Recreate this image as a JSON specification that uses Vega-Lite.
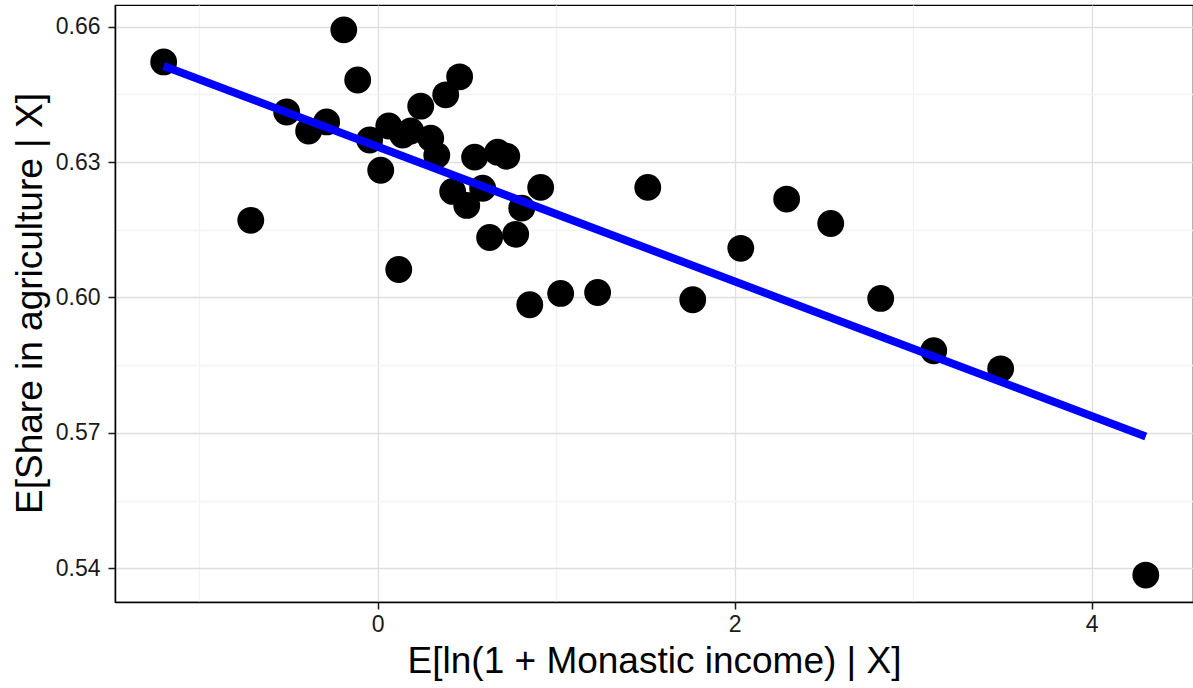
{
  "$schema": "https://vega.github.io/schema/vega-lite/v6.json",
  "autosize": "none",
  "width": 1078,
  "height": 597,
  "padding": {"left": 115, "top": 5, "right": 0, "bottom": 86},
  "background": "white",
  "config": {
    "view": {"stroke": "black", "strokeWidth": 1.2},
    "font": "Liberation Sans"
  },
  "datasets": {
    "points": [
      {"x": -1.199, "y": 0.6522},
      {"x": -0.711, "y": 0.6171},
      {"x": -0.510, "y": 0.6411},
      {"x": -0.387, "y": 0.6369},
      {"x": -0.286, "y": 0.6389},
      {"x": -0.190, "y": 0.6593},
      {"x": -0.112, "y": 0.6482},
      {"x": -0.045, "y": 0.6349},
      {"x": 0.017, "y": 0.6282},
      {"x": 0.062, "y": 0.6380},
      {"x": 0.118, "y": 0.6062},
      {"x": 0.140, "y": 0.6360},
      {"x": 0.185, "y": 0.6369},
      {"x": 0.241, "y": 0.6424},
      {"x": 0.297, "y": 0.6353},
      {"x": 0.331, "y": 0.6315},
      {"x": 0.381, "y": 0.6449},
      {"x": 0.420, "y": 0.6235},
      {"x": 0.459, "y": 0.6489},
      {"x": 0.499, "y": 0.6204},
      {"x": 0.543, "y": 0.6311},
      {"x": 0.588, "y": 0.6242},
      {"x": 0.627, "y": 0.6133},
      {"x": 0.672, "y": 0.6322},
      {"x": 0.723, "y": 0.6313},
      {"x": 0.773, "y": 0.6140},
      {"x": 0.807, "y": 0.6198},
      {"x": 0.852, "y": 0.5984},
      {"x": 0.913, "y": 0.6244},
      {"x": 1.025, "y": 0.6009},
      {"x": 1.232, "y": 0.6011},
      {"x": 1.513, "y": 0.6244},
      {"x": 1.765, "y": 0.5995},
      {"x": 2.034, "y": 0.6109},
      {"x": 2.291, "y": 0.6218},
      {"x": 2.538, "y": 0.6164},
      {"x": 2.818, "y": 0.5998},
      {"x": 3.115, "y": 0.5882},
      {"x": 3.490, "y": 0.5842},
      {"x": 4.303, "y": 0.5385}
    ],
    "fit": [
      {"x": -1.199, "y": 0.6513},
      {"x": 4.303, "y": 0.5692}
    ]
  },
  "encoding": {
    "x": {
      "field": "x",
      "type": "quantitative",
      "scale": {"domain": [-1.4717, 4.5675], "nice": false, "zero": false},
      "axis": {
        "title": "E[ln(1 + Monastic income) | X]",
        "values": [-1, 0, 1, 2, 3, 4],
        "labelExpr": "datum.value % 2 === 0 ? format(datum.value, 'd') : ''",
        "labelFontSize": 23,
        "labelColor": "#1a1a1a",
        "labelPadding": 4,
        "labelFlush": false,
        "labelOverlap": false,
        "tickSize": 7,
        "tickWidth": 1.5,
        "tickColor": "#1a1a1a",
        "tickOpacity": {"condition": {"test": "datum.value % 2 === 0", "value": 1}, "value": 0},
        "domainColor": "black",
        "domainWidth": 1.5,
        "grid": true,
        "gridColor": {"condition": {"test": "datum.value % 2 === 0", "value": "#dedede"}, "value": "#f3f3f3"},
        "gridWidth": 1.3,
        "titleFontSize": 37,
        "titleFontWeight": "normal",
        "titleColor": "black",
        "titleY": 59,
        "titleBaseline": "middle"
      }
    },
    "y": {
      "field": "y",
      "type": "quantitative",
      "scale": {"domain": [0.53253, 0.66481], "nice": false, "zero": false},
      "axis": {
        "title": "E[Share in agriculture | X]",
        "values": [0.54, 0.555, 0.57, 0.585, 0.6, 0.615, 0.63, 0.645, 0.66],
        "labelExpr": "round(datum.value*1000) % 30 === 0 ? format(datum.value, '.2f') : ''",
        "labelFontSize": 23,
        "labelColor": "#1a1a1a",
        "labelPadding": 8,
        "labelFlush": false,
        "labelOverlap": false,
        "tickSize": 7,
        "tickWidth": 1.5,
        "tickColor": "#1a1a1a",
        "tickOpacity": {"condition": {"test": "round(datum.value*1000) % 30 === 0", "value": 1}, "value": 0},
        "domainColor": "black",
        "domainWidth": 1.5,
        "grid": true,
        "gridColor": {"condition": {"test": "round(datum.value*1000) % 30 === 0", "value": "#dedede"}, "value": "#f3f3f3"},
        "gridWidth": 1.3,
        "titleFontSize": 37,
        "titleFontWeight": "normal",
        "titleColor": "black",
        "titleX": -85,
        "titleY": 298,
        "titleAngle": -90,
        "titleBaseline": "middle",
        "titleAlign": "center"
      }
    }
  },
  "layer": [
    {
      "data": {"name": "points"},
      "mark": {"type": "point", "shape": "circle", "filled": true, "color": "black", "opacity": 1, "size": 720}
    },
    {
      "data": {"name": "fit"},
      "mark": {"type": "line", "color": "#0000ff", "strokeWidth": 8, "strokeCap": "butt"}
    }
  ]
}
